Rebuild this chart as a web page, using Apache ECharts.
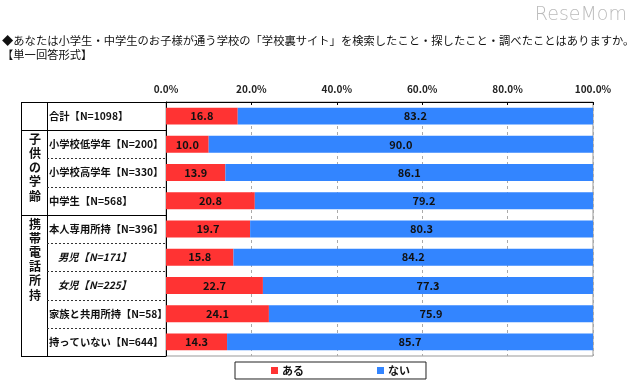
<!DOCTYPE html>
<html>
<head>
<meta charset="utf-8">
<script src="https://cdn.jsdelivr.net/npm/echarts@6/dist/echarts.min.js"></script>
<style>html,body{margin:0;padding:0;background:#fff;}#c{width:640px;height:389px;}</style>
</head>
<body>
<div id="c"></div>
<script>
var categories = ['合計【N=1098】','小学校低学年【N=200】','小学校高学年【N=330】','中学生【N=568】','本人専用所持【N=396】','男児【N=171】','女児【N=225】','家族と共用所持【N=58】','持っていない【N=644】'];
var italicCats = ['男児【N=171】','女児【N=225】'];
var seriesNames = ['ある','ない'];
var aru = [16.8, 10.0, 13.9, 20.8, 19.7, 15.8, 22.7, 24.1, 14.3];
var nai = [83.2, 90.0, 86.1, 79.2, 80.3, 84.2, 77.3, 75.9, 85.7];
var groupLabels = ['子供の学齢', '携帯電話所持'];
var titleText = '◆あなたは小学生・中学生のお子様が通う学校の「学校裏サイト」を検索したこと・探したこと・調べたことはありますか。';
var subTitleText = '【単一回答形式】';

var FONT = '"Noto Sans CJK JP", "Noto Sans", sans-serif';
var chart = echarts.init(document.getElementById('c'));

var G = {left: 166, right: 593, top: 102, bottom: 356};
var rowH = (G.bottom - G.top) / categories.length;
function ry(i) { return G.top + rowH * i; }
var TX0 = 21, TX1 = 47;

var graphics = [];
function line(x1, y1, x2, y2, dashed, color) {
  graphics.push({type: 'line', silent: true, z: 10,
    shape: {x1: x1, y1: y1, x2: x2, y2: y2},
    style: {stroke: color || '#000', lineWidth: 1, lineDash: dashed ? [2, 2] : null}});
}
// table outline
line(TX0, G.top + 0.5, G.left, G.top + 0.5);
line(TX0 + 0.5, G.top, TX0 + 0.5, G.bottom + 1);
line(TX1 + 0.5, G.top, TX1 + 0.5, G.bottom + 1);
line(TX0, G.bottom + 0.5, G.left, G.bottom + 0.5);
// row separators
var solidRows = [1, 4];
var dashedRows = [2, 3, 5, 6, 7, 8];
solidRows.forEach(function (r) { line(TX0, Math.round(ry(r)) + 0.5, G.left, Math.round(ry(r)) + 0.5); });
dashedRows.forEach(function (r) { line(TX1, Math.round(ry(r)) + 0.5, G.left, Math.round(ry(r)) + 0.5, true, '#333'); });
// group labels (vertical)
var groupStart = [1, 4];
groupLabels.forEach(function (g, k) {
  graphics.push({type: 'text', silent: true, z: 10,
    style: {text: g.split('').join('\n'), x: (TX0 + TX1) / 2 + 1, y: ry(groupStart[k]) + 2,
      align: 'center', verticalAlign: 'top', lineHeight: 14.2,
      font: 'bold 12px ' + FONT, fill: '#111'}});
});
// title texts
graphics.push({type: 'text', silent: true, style: {text: titleText, x: 2, y: 41, verticalAlign: 'middle', font: '11.3px ' + FONT, fill: '#111'}});
graphics.push({type: 'text', silent: true, style: {text: subTitleText, x: 2, y: 55, verticalAlign: 'middle', font: '11.3px ' + FONT, fill: '#111'}});
graphics.push({type: 'text', silent: true, style: {text: 'ReseMom', x: 627, y: 15, align: 'right', verticalAlign: 'middle', font: '300 19px "DejaVu Sans", sans-serif', fill: '#bbb'}});

function valLabel() {
  return {show: true, position: 'inside', color: '#111', fontFamily: FONT, fontWeight: 'bold', fontSize: 11,
    formatter: function (p) { return p.value.toFixed(1); }};
}

chart.setOption({
  animation: false,
  backgroundColor: '#fff',
  grid: {left: G.left, right: 640 - G.right, top: G.top, bottom: 389 - G.bottom, show: true, borderColor: '#999', borderWidth: 1},
  legend: {
    data: seriesNames, left: 235, top: 362,
    itemWidth: 7, itemHeight: 7, itemGap: 73, icon: 'rect',
    padding: [3, 16, 3, 36], borderColor: '#222', borderWidth: 1,
    textStyle: {fontFamily: FONT, fontWeight: 'bold', fontSize: 11, color: '#111', padding: [0, 0, 0, -1]}
  },
  xAxis: {
    type: 'value', position: 'top', min: 0, max: 100, interval: 20,
    axisLine: {show: true, lineStyle: {color: '#000', width: 1}},
    axisTick: {show: true, inside: true, length: 3, lineStyle: {color: '#000'}},
    splitLine: {show: true, lineStyle: {color: '#aaa', type: [3, 3]}},
    axisLabel: {formatter: function (v) { return v.toFixed(1) + '%'; }, margin: 8,
      fontFamily: FONT, fontWeight: 'bold', fontSize: 10, color: '#222'}
  },
  yAxis: {
    type: 'category', data: categories, inverse: true,
    axisLine: {show: true, lineStyle: {color: '#000'}},
    axisTick: {show: false},
    axisLabel: {
      align: 'left', margin: G.left - 49,
      fontFamily: FONT, fontWeight: 'bold', fontSize: 10.3, color: '#111',
      formatter: function (v) { return italicCats.indexOf(v) >= 0 ? '{i|' + v + '}' : v; },
      rich: {i: {fontFamily: FONT, fontWeight: 'bold', fontStyle: 'italic', fontSize: 10.3, color: '#111', padding: [0, 0, 0, 9]}}
    }
  },
  series: [
    {name: seriesNames[0], type: 'bar', stack: 't', data: aru, barCategoryGap: '40%',
      itemStyle: {color: '#ff3333'}, label: valLabel()},
    {name: seriesNames[1], type: 'bar', stack: 't', data: nai, barCategoryGap: '40%',
      itemStyle: {color: '#3385ff'}, label: valLabel()}
  ],
  graphic: graphics
});
</script>
</body>
</html>
